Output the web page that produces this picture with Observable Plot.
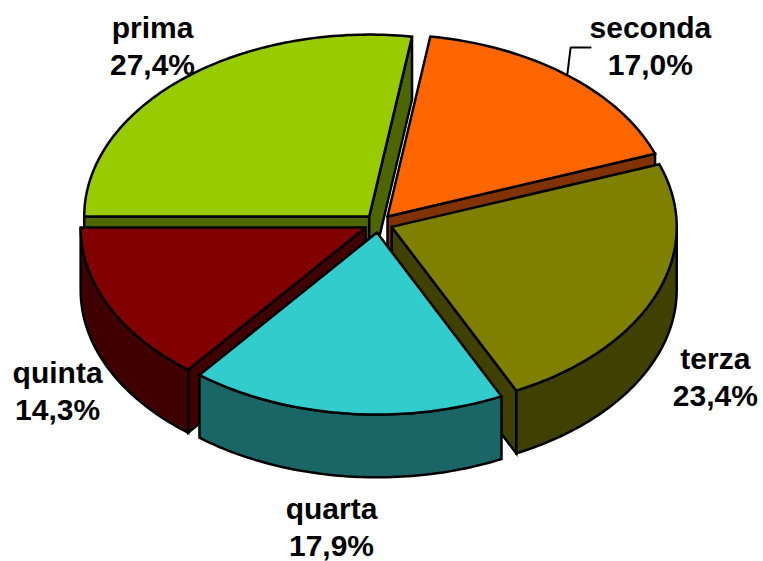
<!DOCTYPE html>
<html><head><meta charset="utf-8">
<script src="https://cdn.jsdelivr.net/npm/d3@7"></script>
<script src="https://cdn.jsdelivr.net/npm/@observablehq/plot@0.6"></script>
<style>html,body{margin:0;padding:0;background:#fff}</style>
</head><body><div id="chart"></div>
<script>
const names = ["prima","seconda","terza","quarta","quinta"];
const values = [27.4,17.0,23.4,17.9,14.3];
const topColors = ["#99cc00","#ff6600","#808000","#33cccc","#800000"];
const sideColors = ["#4d6600","#803300","#404000","#1a6666","#400000"];
const labelText = ["27,4%","17,0%","23,4%","17,9%","14,3%"];
const paintOrder = [0,1,2,4,3];

const startAngle = 270, explode = 0.05, depth = 0.345;
const rad = d => d*Math.PI/180;
const total = d3.sum(values);
let acc = startAngle;
const slices = values.map((v,i)=>{
  const a0 = acc, a1 = acc + v/total*360; acc = a1;
  const m = rad((a0+a1)/2);
  return {i,a0,a1,ox:explode*Math.sin(m),oy:explode*Math.cos(m)};
});
const P = (s,a,r=1,dz=0)=>({x:s.ox+r*Math.sin(rad(a)),y:s.oy+r*Math.cos(rad(a))-dz});
const arc = (s,a0,a1,dz=0)=>{
  const n = Math.max(2,Math.ceil(Math.abs(a1-a0)));
  return d3.range(n+1).map(k=>P(s,a0+(a1-a0)*k/n,1,dz));
};
const close = p=>[...p,p[0]];
const poly = (pts,fill)=>Plot.line(close(pts),{x:"x",y:"y",fill,stroke:"#000",strokeWidth:2.5,strokeLinejoin:"miter",strokeMiterlimit:8});

const marks = [];
for (const idx of paintOrder) {
  const s = slices[idx], c = P(s,0,0), cBottom = P(s,0,0,depth), side = sideColors[idx];
  const wall = a => poly([c,P(s,a),P(s,a,1,depth),cBottom],side);
  // a cut face is seen only when it turns towards the viewer
  if (Math.sin(rad(s.a0)) < 0) marks.push(wall(s.a0));
  if (Math.sin(rad(s.a1)) > 0) marks.push(wall(s.a1));
  // the part of the outer rim that faces the viewer (90..270 degrees, also after a full turn)
  for (const [u,v] of [[Math.max(s.a0,90),Math.min(s.a1,270)],[Math.max(s.a0,450),Math.min(s.a1,630)]]) {
    if (v>u) marks.push(poly([...arc(s,u,v),...arc(s,v,u,depth)],side));
  }
  marks.push(poly([c,...arc(s,s.a0,s.a1)],topColors[idx]));
}
// label anchors, in radii from the pie centre
const labelAnchors = [[-0.793,0.981],[0.954,0.981],[1.182,-0.835],[-0.165,-1.659],[-1.126,-0.913]];
const labels = names.map((n,i)=>({x:labelAnchors[i][0],y:labelAnchors[i][1],t:n+"\n"+labelText[i]}));
// leader line of "seconda"
const leader = [{x:0.663,y:0.824},{x:0.674,y:0.967},{x:0.744,y:0.967}];
marks.push(Plot.line(leader,{x:"x",y:"y",stroke:"#000",strokeWidth:2,strokeLinejoin:"miter"}));
marks.push(Plot.text(labels,{x:"x",y:"y",text:"t",fontFamily:"Liberation Sans",fontWeight:"bold",fontSize:30,lineHeight:1.23,fill:"#000",textAnchor:"middle"}));

const chart = Plot.plot({
  width:763,height:561,margin:0,
  x:{domain:[-1,1],range:[378-285,378+285],axis:null},
  y:{domain:[-1,1],range:[223+182,223-182],axis:null},
  style:{background:"#fff",overflow:"visible"},
  marks
});
document.getElementById("chart").appendChild(chart);
</script></body></html>
